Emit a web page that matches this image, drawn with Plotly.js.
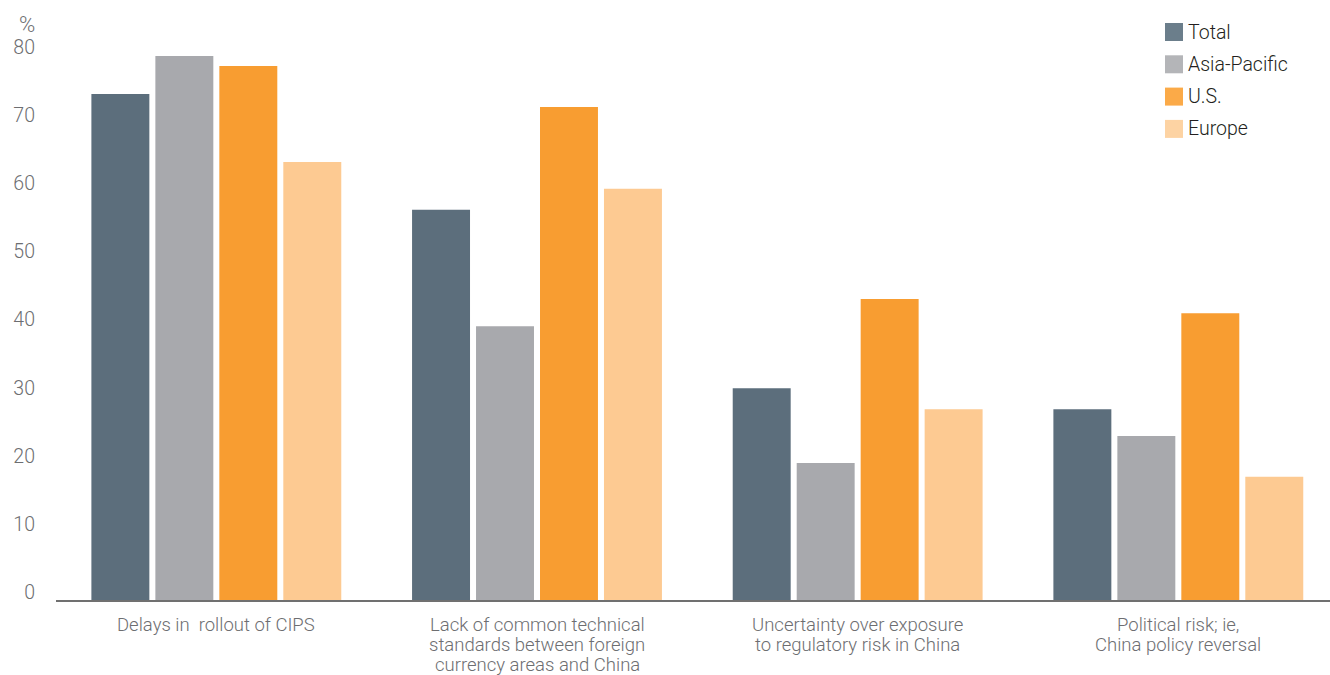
<!DOCTYPE html>
<html>
<head>
<meta charset="utf-8">
<script src="https://cdn.plot.ly/plotly-3.0.1.min.js"></script>
<style>
  html, body { margin: 0; padding: 0; background: #ffffff; }
  #chart { width: 1330px; height: 675px; }
</style>
</head>
<body>
<div id="chart"></div>
<script>
// Survey: obstacles to renminbi adoption, share of respondents (%)
const categories = [
  'Delays in\u00a0 rollout of CIPS',
  'Lack of common technical<br>standards between foreign<br>currency areas and China',
  'Uncertainty over exposure<br>to regulatory risk in China',
  'Political risk; ie,<br>China policy reversal'
];

const seriesNames = ['Total', 'Asia-Pacific', 'U.S.', 'Europe'];

const totalValues       = [74.3, 57.3, 31.1, 28.0];
const asiaPacificValues = [79.9, 40.2, 20.1, 24.1];
const usValues          = [78.4, 72.4, 44.2, 42.1];
const europeValues      = [64.3, 60.4, 28.0, 18.1];

const yTickValues = [0, 10, 20, 30, 40, 50, 60, 70, 80];
const yTickLabels = ['0', '10', '20', '30', '40', '50', '60', '70', '80'];

const seriesColors = ['#5c6e7c', '#a8a9ad', '#f89d31', '#fdca92'];
const legendColors = ['#6b7e8b', '#b4b5b8', '#fbaa48', '#fdd3a3'];

const seriesValues = [totalValues, asiaPacificValues, usValues, europeValues];

const traces = seriesNames.map((name, i) => ({
  type: 'bar',
  name: name,
  x: categories,
  y: seriesValues[i],
  marker: { color: seriesColors[i], line: { width: 0 } },
  showlegend: false,
  hoverinfo: 'x+y+name'
}));

// page geometry
const W = 1330, H = 675;
const M = { l: 56, r: 0, t: 20, b: 75 };
const plotW = W - M.l - M.r;
const plotH = H - M.t - M.b;
const px2x = px => (px - M.l) / plotW;
const px2y = py => (H - M.b - py) / plotH;

const textGray = '#6d6e71';
const fontFamily = 'Roboto, "Liberation Sans", sans-serif';

// category labels, one line at a time for a tighter leading
const categoryNotes = [];
const firstLineY = 625, lineStep = 20;
categories.forEach((cat, ci) => {
  cat.split('<br>').forEach((line, li) => {
    categoryNotes.push({
      xref: 'x', yref: 'paper',
      x: cat, y: px2y(firstLineY + li * lineStep),
      xanchor: 'center', yanchor: 'middle',
      text: line, showarrow: false,
      font: { family: fontFamily, size: 18.5, color: textGray, weight: 300 }
    });
  });
});

// legend built from series names and colours
const legendShapes = [];
const legendNotes = [];
const legendTop = 32, legendStep = 32.3, swatch = 18, swatchLeft = 1165;
seriesNames.forEach((name, i) => {
  const cy = legendTop + i * legendStep;
  legendShapes.push({
    type: 'rect', xref: 'paper', yref: 'paper',
    x0: px2x(swatchLeft), x1: px2x(swatchLeft + swatch),
    y0: px2y(cy + swatch / 2), y1: px2y(cy - swatch / 2),
    fillcolor: legendColors[i], line: { width: 0 }
  });
  legendNotes.push({
    xref: 'paper', yref: 'paper',
    x: px2x(swatchLeft + swatch + 3), y: px2y(cy),
    xanchor: 'left', yanchor: 'middle',
    text: name, showarrow: false,
    font: { family: fontFamily, size: 19.5, color: '#231f20', weight: 300 }
  });
});

const layout = {
  width: W, height: H,
  margin: M,
  paper_bgcolor: '#ffffff',
  plot_bgcolor: '#ffffff',
  barmode: 'group',
  bargap: 0.202,
  bargroupgap: 0.094,
  showlegend: false,
  font: { family: fontFamily, color: textGray, weight: 300 },
  xaxis: {
    type: 'category',
    range: [-0.5, 3.473],
    showline: true,
    linecolor: '#707070',
    linewidth: 2,
    showgrid: false,
    zeroline: false,
    ticks: '',
    showticklabels: false
  },
  yaxis: {
    range: [0, 85.17],
    showline: false,
    showgrid: false,
    zeroline: false,
    ticks: '',
    tickmode: 'array',
    tickvals: yTickValues,
    ticktext: yTickLabels,
    tickfont: { family: fontFamily, size: 19.5, color: textGray, weight: 300 },
    ticklabelshift: -8,
    ticklabelstandoff: 20
  },
  shapes: legendShapes,
  annotations: [
    {
      xref: 'paper', yref: 'paper',
      x: px2x(27), y: px2y(25),
      xanchor: 'center', yanchor: 'middle',
      text: '%', showarrow: false,
      font: { family: fontFamily, size: 22, color: textGray, weight: 300 }
    }
  ].concat(categoryNotes, legendNotes)
};

Plotly.newPlot('chart', traces, layout, { displayModeBar: false, staticPlot: true });
</script>
</body>
</html>
